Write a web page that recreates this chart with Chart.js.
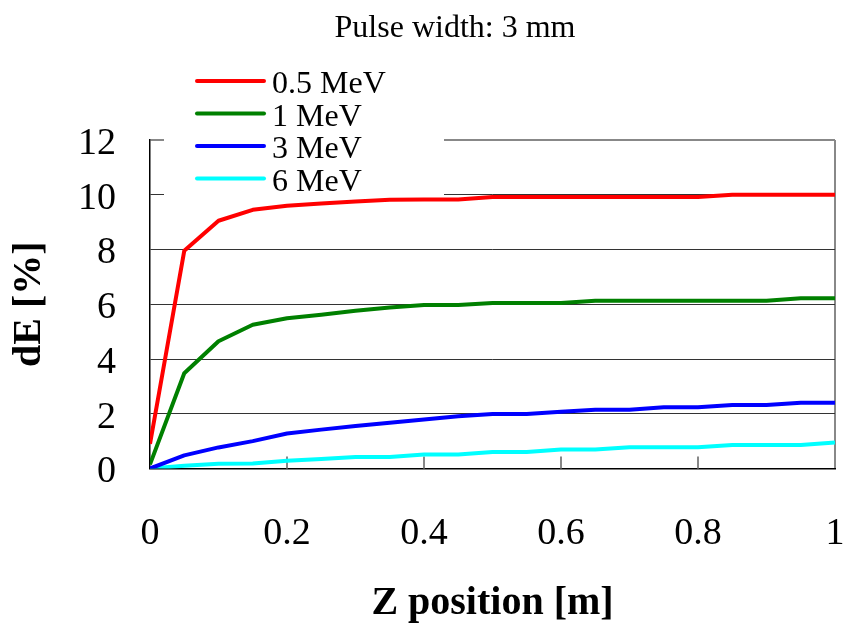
<!DOCTYPE html>
<html>
<head>
<meta charset="utf-8">
<script src="https://cdn.jsdelivr.net/npm/chart.js@4"></script>
<style>
  body { margin: 0; background: #fff; }
  #wrap { width: 845px; height: 626px; }
</style>
</head>
<body>
<div id="wrap"><canvas id="dEChart"></canvas></div>
<script>
// Datos (posición Z en metros, dE en %)
const zPos = [0, 0.05, 0.1, 0.15, 0.2, 0.25, 0.3, 0.35, 0.4, 0.45, 0.5,
              0.55, 0.6, 0.65, 0.7, 0.75, 0.8, 0.85, 0.9, 0.95, 1];
const seriesLabels = ['0.5 MeV', '1 MeV', '3 MeV', '6 MeV'];
const dE05 = [0.9, 7.95, 9.05, 9.45, 9.6, 9.68, 9.75, 9.82, 9.83, 9.83, 9.92,
              9.92, 9.92, 9.92, 9.92, 9.92, 9.92, 10.0, 10.0, 10.0, 10.0];
const dE1 = [0.15, 3.48, 4.65, 5.25, 5.49, 5.62, 5.76, 5.88, 5.97, 5.97, 6.05,
             6.05, 6.05, 6.13, 6.13, 6.13, 6.13, 6.13, 6.13, 6.22, 6.22];
const dE3 = [0.0, 0.48, 0.77, 1.0, 1.28, 1.42, 1.55, 1.67, 1.79, 1.91, 1.99,
             1.99, 2.07, 2.15, 2.15, 2.24, 2.24, 2.32, 2.32, 2.4, 2.4];
const dE6 = [0.0, 0.1, 0.17, 0.18, 0.28, 0.35, 0.42, 0.42, 0.51, 0.51, 0.6,
             0.6, 0.69, 0.69, 0.78, 0.78, 0.78, 0.86, 0.86, 0.86, 0.95];
const seriesColors = ['#ff0000', '#008000', '#0000ff', '#00ffff'];
const xTickMarks = [0.2, 0.4, 0.6, 0.8];
const titleText = 'Pulse width: 3 mm';

const serif = "'Liberation Serif', 'Times New Roman', serif";

function toPoints(values) {
    return zPos.map((z, i) => ({ x: z, y: values[i] }));
}

const allSeries = [dE05, dE1, dE3, dE6];

// Título y leyenda dibujados a mano (posición libre como en Excel)
const decorPlugin = {
    id: 'decor',
    beforeDatasetsDraw(chart) {
        const ctx = chart.ctx;
        const xs = chart.scales.x, ys = chart.scales.y;
        ctx.save();
        // marcas interiores del eje X
        ctx.strokeStyle = '#888';
        ctx.lineWidth = 2;
        xTickMarks.forEach(v => {
            const px = xs.getPixelForValue(v);
            ctx.beginPath();
            ctx.moveTo(px, ys.bottom);
            ctx.lineTo(px, ys.bottom - 12);
            ctx.stroke();
        });
        // fondo blanco de la leyenda
        ctx.fillStyle = '#fff';
        ctx.fillRect(164, 55, 280, 141);
        ctx.restore();
    },
    afterDraw(chart) {
        const ctx = chart.ctx;
        ctx.save();
        ctx.fillStyle = '#000';
        ctx.font = '32px ' + serif;
        ctx.textAlign = 'center';
        ctx.textBaseline = 'alphabetic';
        ctx.fillText(titleText, 455, 37);

        ctx.textAlign = 'left';
        chart.data.datasets.forEach((ds, i) => {
            const y = 81 + i * 32.5;
            ctx.strokeStyle = ds.borderColor;
            ctx.lineWidth = 4;
            ctx.lineCap = 'round';
            ctx.beginPath();
            ctx.moveTo(197, y);
            ctx.lineTo(264, y);
            ctx.stroke();
            ctx.fillStyle = '#000';
            ctx.fillText(ds.label, 272, y + 12);
        });
        ctx.restore();
    }
};

const ctx = document.getElementById('dEChart').getContext('2d');
new Chart(ctx, {
    type: 'line',
    data: {
        datasets: allSeries.map((vals, i) => ({
            label: seriesLabels[i],
            data: toPoints(vals),
            borderColor: seriesColors[i],
            backgroundColor: seriesColors[i],
            borderWidth: 4,
            pointRadius: 0,
            tension: 0,
            borderJoinStyle: 'round',
            fill: false
        }))
    },
    options: {
        responsive: true,
        maintainAspectRatio: false,
        animation: false,
        layout: {
            padding: { top: 140, right: 10, left: 0, bottom: 0 }
        },
        plugins: {
            legend: { display: false },
            title: { display: false },
            tooltip: { enabled: false }
        },
        scales: {
            x: {
                type: 'linear',
                min: 0,
                max: 1,
                afterFit(scale) {
                    scale.height = 157.5;
                    scale.paddingLeft = 0;
                    scale.paddingRight = 0;
                },
                ticks: {
                    stepSize: 0.2,
                    color: '#000',
                    font: { family: serif, size: 38 },
                    padding: 43,
                    maxRotation: 0,
                    callback: v => String(Number(v.toFixed(1)))
                },
                grid: {
                    drawTicks: false,
                    color: c => c.tick && c.tick.value === 1 ? '#888' : 'rgba(0,0,0,0)',
                    lineWidth: 2
                },
                border: { display: true, color: '#000', width: 1.5 },
                title: {
                    display: true,
                    text: 'Z position [m]',
                    color: '#000',
                    font: { family: serif, size: 40, weight: 'bold', lineHeight: 1 },
                    padding: { top: 0, bottom: 2 }
                }
            },
            y: {
                min: 0,
                max: 12,
                afterFit(scale) {
                    scale.width = 150;
                    scale.paddingTop = 0;
                    scale.paddingBottom = 0;
                },
                ticks: {
                    stepSize: 2,
                    color: '#000',
                    font: { family: serif, size: 38 },
                    padding: 34,
                    labelOffset: 4
                },
                grid: {
                    drawTicks: false,
                    color: c => c.tick && c.tick.value === 12 ? '#888' : '#333',
                    lineWidth: c => c.tick && c.tick.value === 12 ? 2 : 1
                },
                border: { display: true, color: '#000', width: 1.5 },
                title: {
                    display: true,
                    text: 'dE [%]',
                    color: '#000',
                    font: { family: serif, size: 40, weight: 'bold', lineHeight: 1 },
                    padding: { top: 10, bottom: 0 }
                }
            }
        }
    },
    plugins: [decorPlugin]
});
</script>
</body>
</html>
